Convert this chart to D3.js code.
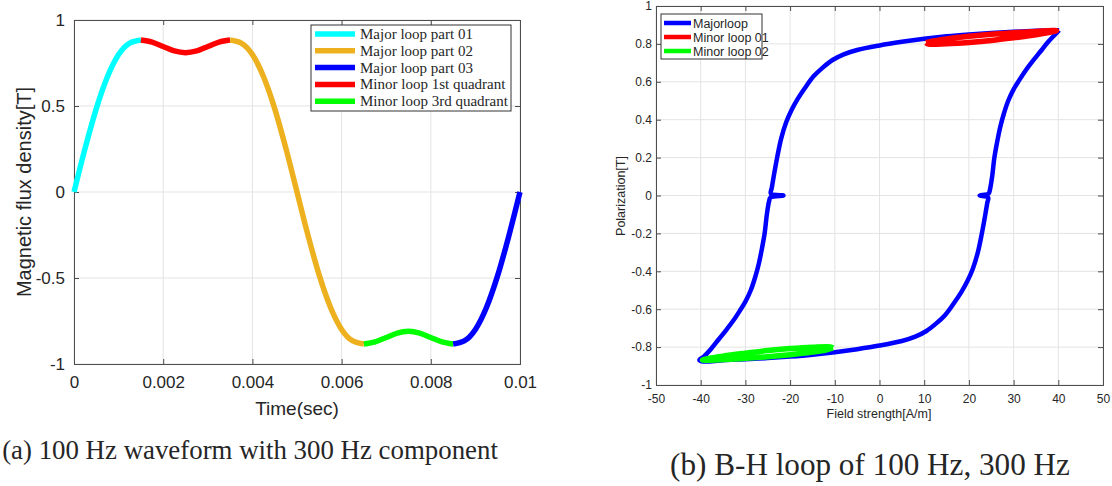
<!DOCTYPE html>
<html>
<head>
<meta charset="utf-8">
<style>
  body { margin: 0; background: #fff; }
  text { fill: #262626; }
</style>
</head>
<body>
<svg width="1112" height="486" font-family="Liberation Sans, Arial, sans-serif"></svg>
<script src="https://d3js.org/d3.v7.min.js"></script>
<script>

// ---- (a) flux density waveform, read every 0.25 ms ----
var timeSec = [0, 0.00025, 0.0005, 0.00075, 0.001, 0.00125, 0.0015, 0.00175, 0.002, 0.00225,
  0.0025, 0.00275, 0.003, 0.00325, 0.0035, 0.00375, 0.004, 0.00425, 0.0045, 0.00475,
  0.005, 0.00525, 0.0055, 0.00575, 0.006, 0.00625, 0.0065, 0.00675, 0.007, 0.00725,
  0.0075, 0.00775, 0.008, 0.00825, 0.0085, 0.00875, 0.009, 0.00925, 0.0095, 0.00975, 0.01];
var fluxB = [0, 0.255, 0.485, 0.670, 0.799, 0.866, 0.884, 0.872, 0.846, 0.820,
  0.810, 0.820, 0.846, 0.872, 0.884, 0.866, 0.799, 0.670, 0.485, 0.255,
  0, -0.255, -0.485, -0.670, -0.799, -0.866, -0.884, -0.872, -0.846, -0.820,
  -0.810, -0.820, -0.846, -0.872, -0.884, -0.866, -0.799, -0.670, -0.485, -0.255, 0];

var partNames = ["Major loop part 01", "Major loop part 02", "Major loop part 03",
  "Minor loop 1st quadrant", "Minor loop 3rd quadrant"];
var partStart = [0, 0.0035, 0.0085, 0.0015, 0.0065];
var partEnd = [0.0015, 0.0065, 0.01, 0.0035, 0.0085];
var partColors = ["#00ffff", "#edb120", "#0000ff", "#ff0000", "#00ff00"];

var timeTicks = [0, 0.002, 0.004, 0.006, 0.008, 0.01];
var fluxTicks = [-1, -0.5, 0, 0.5, 1];

// ---- (b) B-H loop (field strength A/m, polarization T) ----
var majorH = [40.2, 35, 30, 25, 20, 15, 10, 5, 0, -5, -8, -10.5, -12.7, -14.7, -16.6, -18.3, -19.7,
  -20.9, -22, -22.9, -23.6, -24.1, -24.3, -21.5, -24.4, -24.7, -25.2, -25.7, -26.3, -27, -27.8, -28.8,
  -30, -31.3, -32.7, -34.3, -36, -37.7, -39.3, -40.3, -39.5,
  -35, -30, -25, -20, -15, -10, -5, 0, 5, 8, 10.5, 12.7, 14.7, 16.6, 18.3, 19.7, 20.9, 22, 22.9,
  23.6, 24.1, 24.3, 22.4, 24.4, 24.7, 25.2, 25.7, 26.3, 27, 27.8, 28.8, 30, 31.3, 32.7, 34.3, 36,
  37.7, 39.3, 40.2];
var majorB = [0.872, 0.869, 0.864, 0.858, 0.850, 0.840, 0.827, 0.811, 0.792, 0.768, 0.745, 0.715,
  0.675, 0.630, 0.570, 0.510, 0.450, 0.385, 0.300, 0.200, 0.110, 0.040, 0.010, 0.000, -0.010, -0.030,
  -0.100, -0.200, -0.280, -0.360, -0.430, -0.500, -0.560, -0.610, -0.660, -0.710, -0.760, -0.810,
  -0.850, -0.868, -0.876,
  -0.869, -0.864, -0.858, -0.850, -0.840, -0.827, -0.811, -0.792, -0.768, -0.745, -0.715, -0.675,
  -0.630, -0.570, -0.510, -0.450, -0.385, -0.300, -0.200, -0.110, -0.040, -0.010, 0.000, 0.010,
  0.030, 0.100, 0.200, 0.280, 0.360, 0.430, 0.500, 0.560, 0.610, 0.660, 0.710, 0.760, 0.810, 0.850,
  0.872];

var minor1H = [10.4, 12, 15, 20, 25, 30, 35, 39.6, 35, 30, 25, 20, 15, 11, 10.4];
var minor1B = [0.806, 0.815, 0.826, 0.840, 0.851, 0.859, 0.866, 0.870, 0.848, 0.832, 0.818, 0.808,
  0.801, 0.799, 0.806];
var minor2H = [-10.4, -11, -15, -20, -25, -30, -35, -39.6, -35, -30, -25, -20, -15, -12, -10.4];
var minor2B = [-0.804, -0.799, -0.801, -0.808, -0.818, -0.832, -0.848, -0.868, -0.866, -0.859, -0.851,
  -0.840, -0.826, -0.815, -0.804];

var loopNames = ["Majorloop", "Minor loop 01", "Minor loop 02"];
var loopColors = ["#0000ff", "#ff0000", "#00ff00"];

var fieldTicks = [-50, -40, -30, -20, -10, 0, 10, 20, 30, 40, 50];
var polTicks = [-1, -0.8, -0.6, -0.4, -0.2, 0, 0.2, 0.4, 0.6, 0.8, 1];

var svg = d3.select("svg");
svg.append("rect").attr("width", 1112).attr("height", 486).attr("fill", "#fff");

// MATLAB style box: grid, inward ticks on all four sides, labels left/bottom
function frame(g, x, y, xt, yt, fs, xpad, ypad) {
  var x0 = x.range()[0], x1 = x.range()[1], y0 = y.range()[0], y1 = y.range()[1];
  g.append("g").selectAll("line").data(xt).enter().append("line")
      .attr("x1", x).attr("x2", x).attr("y1", y0).attr("y2", y1)
      .attr("stroke", "#e3e3e3");
  g.append("g").selectAll("line").data(yt).enter().append("line")
      .attr("y1", y).attr("y2", y).attr("x1", x0).attr("x2", x1)
      .attr("stroke", "#e3e3e3");

  var fmt = function(d) { return String(d); };
  var ax = g.append("g");
  ax.append("g").attr("transform", "translate(0," + y0 + ")")
      .call(d3.axisBottom(x).tickValues(xt).tickSize(-5).tickPadding(xpad).tickFormat(fmt));
  ax.append("g").attr("transform", "translate(0," + y1 + ")")
      .call(d3.axisTop(x).tickValues(xt).tickSize(-5).tickFormat(""));
  ax.append("g").attr("transform", "translate(" + x0 + ",0)")
      .call(d3.axisLeft(y).tickValues(yt).tickSize(-5).tickPadding(ypad).tickFormat(fmt));
  ax.append("g").attr("transform", "translate(" + x1 + ",0)")
      .call(d3.axisRight(y).tickValues(yt).tickSize(-5).tickFormat(""));
  ax.selectAll("path.domain").attr("stroke", "#4d4d4d");
  ax.selectAll(".tick line").attr("stroke", "#4d4d4d");
  ax.selectAll("text").attr("font-size", fs).attr("fill", "#262626")
      .attr("font-family", "Liberation Sans, Arial, sans-serif");
}

// ---------- chart (a) ----------
var xa = d3.scaleLinear().domain([0, 0.01]).range([74, 520]);
var ya = d3.scaleLinear().domain([-1, 1]).range([364, 20]);
var ga = svg.append("g");
frame(ga, xa, ya, timeTicks, fluxTicks, 17, 12, 9);

var wave = timeSec.map(function(t, i) { return { t: t, b: fluxB[i] }; });
var lineA = d3.line().x(function(d) { return xa(d.t); }).y(function(d) { return ya(d.b); })
    .curve(d3.curveMonotoneX);
// plotted in time order
[0, 3, 1, 4, 2].forEach(function(k) {
  var seg = wave.filter(function(d) { return d.t >= partStart[k] - 1e-9 && d.t <= partEnd[k] + 1e-9; });
  ga.append("path").datum(seg).attr("d", lineA)
      .attr("fill", "none").attr("stroke", partColors[k]).attr("stroke-width", 5.5);
});

ga.append("text").attr("x", 297).attr("y", 415).attr("text-anchor", "middle")
    .attr("font-size", 19).text("Time(sec)");
ga.append("text").attr("transform", "translate(31,192) rotate(-90)").attr("text-anchor", "middle")
    .attr("font-size", 20).text("Magnetic flux density[T]");

var lga = ga.append("g").attr("transform", "translate(311,25)");
lga.append("rect").attr("width", 200).attr("height", 86)
    .attr("fill", "#fff").attr("stroke", "#333").attr("stroke-width", 1);
partNames.forEach(function(name, k) {
  var yy = 9 + k * 16.8;
  lga.append("line").attr("x1", 4).attr("x2", 44).attr("y1", yy).attr("y2", yy)
      .attr("stroke", partColors[k]).attr("stroke-width", 5.5);
  lga.append("text").attr("x", 49).attr("y", yy + 5)
      .attr("font-family", "Liberation Serif, Times New Roman, serif")
      .attr("font-size", 15).text(name);
});

// ---------- chart (b) ----------
var xb = d3.scaleLinear().domain([-50, 50]).range([656, 1103]);
var yb = d3.scaleLinear().domain([-1, 1]).range([385, 6]);
var gb = svg.append("g");
frame(gb, xb, yb, fieldTicks, polTicks, 12, 9, 4);

var lineB = d3.line().x(function(d) { return xb(d[0]); }).y(function(d) { return yb(d[1]); })
    .curve(d3.curveCatmullRom.alpha(0.5));
var loops = [
  d3.zip(majorH, majorB),
  d3.zip(minor1H, minor1B),
  d3.zip(minor2H, minor2B)
];
loops.forEach(function(pts, k) {
  gb.append("path").datum(pts).attr("d", lineB)
      .attr("fill", "none").attr("stroke", loopColors[k])
      .attr("stroke-width", k === 0 ? 4.5 : 5.5).attr("stroke-linejoin", "round");
});

gb.append("text").attr("x", 879).attr("y", 418).attr("text-anchor", "middle")
    .attr("font-size", 12.5).text("Field strength[A/m]");
gb.append("text").attr("transform", "translate(625,196) rotate(-90)").attr("text-anchor", "middle")
    .attr("font-size", 12.5).text("Polarization[T]");

var lgb = gb.append("g").attr("transform", "translate(661,14)");
lgb.append("rect").attr("width", 101).attr("height", 45)
    .attr("fill", "#fff").attr("stroke", "#333").attr("stroke-width", 1);
loopNames.forEach(function(name, k) {
  var yy = 9 + k * 14;
  lgb.append("line").attr("x1", 3).attr("x2", 30).attr("y1", yy).attr("y2", yy)
      .attr("stroke", loopColors[k]).attr("stroke-width", 4.5);
  lgb.append("text").attr("x", 32).attr("y", yy + 4.5).attr("font-size", 12.5).text(name);
});

// ---------- captions ----------
function caption(txt, cx, y, width) {
  var t = svg.append("text").attr("x", cx).attr("y", y).attr("text-anchor", "middle")
      .attr("font-family", "Liberation Serif, Times New Roman, serif")
      .attr("font-size", 26).text(txt);
  var w = t.node().getComputedTextLength();
  t.attr("font-size", 26 * width / w);
}
caption("(a) 100 Hz waveform with 300 Hz component", 250, 459, 496);
caption("(b) B-H loop of 100 Hz, 300 Hz", 870, 475, 400);

</script>
</body>
</html>
